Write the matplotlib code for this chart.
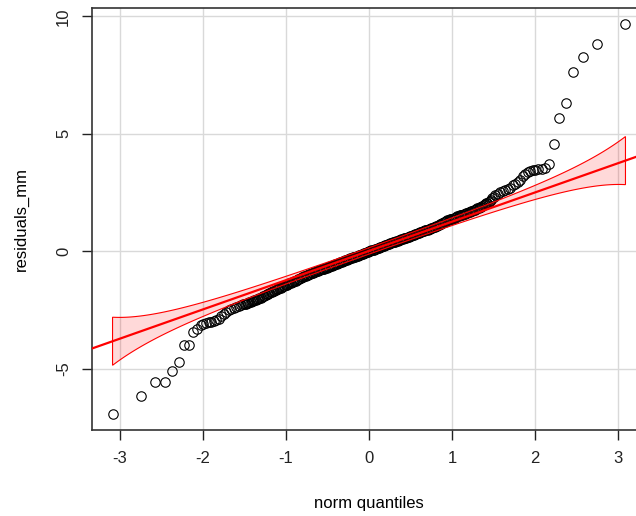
import numpy as np
import matplotlib.pyplot as plt
from statistics import NormalDist

plt.rcParams['font.family'] = ['Liberation Sans', 'DejaVu Sans']
plt.rcParams['axes.unicode_minus'] = False

# theoretical normal quantiles and sorted residuals
# lower tail
tail_lo_q = [-3.09, -2.75, -2.58, -2.46, -2.37, -2.29, -2.23, -2.17, -2.12, -2.07,
             -2.03, -2.00, -1.96, -1.93, -1.90, -1.87, -1.84, -1.81, -1.78, -1.75,
             -1.72, -1.69, -1.66, -1.63, -1.60, -1.57, -1.54, -1.52]
tail_lo_r = [-6.95, -6.16, -5.59, -5.59, -5.11, -4.70, -4.00, -4.00, -3.43, -3.30,
             -3.15, -3.10, -3.07, -3.03, -3.00, -2.96, -2.92, -2.88, -2.78, -2.68,
             -2.58, -2.50, -2.45, -2.41, -2.37, -2.34, -2.30, -2.27]
# dense central body
body_q = [
    -1.500, -1.485, -1.470, -1.455, -1.440, -1.425, -1.410, -1.395, -1.380, -1.365,
    -1.350, -1.335, -1.320, -1.305, -1.290, -1.275, -1.260, -1.245, -1.230, -1.215,
    -1.200, -1.185, -1.170, -1.155, -1.140, -1.125, -1.110, -1.095, -1.080, -1.065,
    -1.050, -1.035, -1.020, -1.005, -0.990, -0.975, -0.960, -0.945, -0.930, -0.915,
    -0.900, -0.885, -0.870, -0.855, -0.840, -0.825, -0.810, -0.795, -0.780, -0.765,
    -0.750, -0.735, -0.720, -0.705, -0.690, -0.675, -0.660, -0.645, -0.630, -0.615,
    -0.600, -0.585, -0.570, -0.555, -0.540, -0.525, -0.510, -0.495, -0.480, -0.465,
    -0.450, -0.435, -0.420, -0.405, -0.390, -0.375, -0.360, -0.345, -0.330, -0.315,
    -0.300, -0.285, -0.270, -0.255, -0.240, -0.225, -0.210, -0.195, -0.180, -0.165,
    -0.150, -0.135, -0.120, -0.105, -0.090, -0.075, -0.060, -0.045, -0.030, -0.015,
    0.000, 0.015, 0.030, 0.045, 0.060, 0.075, 0.090, 0.105, 0.120, 0.135,
    0.150, 0.165, 0.180, 0.195, 0.210, 0.225, 0.240, 0.255, 0.270, 0.285,
    0.300, 0.315, 0.330, 0.345, 0.360, 0.375, 0.390, 0.405, 0.420, 0.435,
    0.450, 0.465, 0.480, 0.495, 0.510, 0.525, 0.540, 0.555, 0.570, 0.585,
    0.600, 0.615, 0.630, 0.645, 0.660, 0.675, 0.690, 0.705, 0.720, 0.735,
    0.750, 0.765, 0.780, 0.795, 0.810, 0.825, 0.840, 0.855, 0.870, 0.885,
    0.900, 0.915, 0.930, 0.945, 0.960, 0.975, 0.990, 1.005, 1.020, 1.035,
    1.050, 1.065, 1.080, 1.095, 1.110, 1.125, 1.140, 1.155, 1.170, 1.185,
    1.200, 1.215, 1.230, 1.245, 1.260, 1.275, 1.290, 1.305, 1.320, 1.335,
    1.350, 1.365, 1.380, 1.395, 1.410, 1.425, 1.440, 1.455, 1.470, 1.485,
    1.500,
]
body_r = [
    -2.25, -2.23, -2.22, -2.20, -2.18, -2.16, -2.14, -2.12, -2.10, -2.08,
    -2.05, -2.03, -2.00, -1.98, -1.95, -1.92, -1.89, -1.87, -1.84, -1.81,
    -1.78, -1.76, -1.73, -1.70, -1.68, -1.65, -1.62, -1.60, -1.57, -1.55,
    -1.52, -1.50, -1.47, -1.45, -1.42, -1.40, -1.37, -1.35, -1.32, -1.30,
    -1.27, -1.25, -1.22, -1.20, -1.17, -1.15, -1.12, -1.10, -1.07, -1.05,
    -1.03, -1.01, -0.99, -0.96, -0.94, -0.92, -0.90, -0.88, -0.86, -0.84,
    -0.82, -0.80, -0.78, -0.76, -0.74, -0.72, -0.70, -0.68, -0.66, -0.64,
    -0.62, -0.60, -0.58, -0.56, -0.54, -0.52, -0.49, -0.47, -0.45, -0.43,
    -0.41, -0.39, -0.37, -0.35, -0.33, -0.31, -0.29, -0.27, -0.25, -0.23,
    -0.21, -0.19, -0.17, -0.15, -0.13, -0.11, -0.09, -0.07, -0.05, -0.03,
    -0.01, 0.01, 0.03, 0.05, 0.07, 0.09, 0.11, 0.13, 0.15, 0.17,
    0.19, 0.21, 0.23, 0.25, 0.27, 0.29, 0.31, 0.33, 0.35, 0.37,
    0.39, 0.41, 0.43, 0.45, 0.47, 0.49, 0.51, 0.53, 0.55, 0.56,
    0.58, 0.60, 0.62, 0.64, 0.66, 0.68, 0.70, 0.72, 0.74, 0.76,
    0.78, 0.80, 0.82, 0.84, 0.86, 0.88, 0.90, 0.92, 0.94, 0.96,
    0.98, 1.00, 1.02, 1.05, 1.07, 1.09, 1.12, 1.14, 1.17, 1.20,
    1.23, 1.26, 1.29, 1.31, 1.33, 1.35, 1.37, 1.39, 1.41, 1.43,
    1.46, 1.48, 1.50, 1.52, 1.54, 1.56, 1.58, 1.60, 1.62, 1.64,
    1.66, 1.68, 1.70, 1.72, 1.74, 1.77, 1.79, 1.82, 1.84, 1.87,
    1.90, 1.93, 1.96, 2.00, 2.03, 2.07, 2.11, 2.15, 2.20, 2.25,
    2.30,
]
# upper tail
tail_hi_q = [1.52, 1.55, 1.58, 1.61, 1.64, 1.67, 1.70, 1.73, 1.76, 1.79,
             1.82, 1.85, 1.88, 1.91, 1.94, 1.97, 2.00, 2.04, 2.08, 2.12,
             2.17, 2.23, 2.29, 2.37, 2.46, 2.58, 2.75, 3.09]
tail_hi_r = [2.38, 2.42, 2.50, 2.57, 2.61, 2.64, 2.67, 2.80, 2.88, 2.95,
             3.05, 3.18, 3.30, 3.38, 3.42, 3.44, 3.46, 3.49, 3.52, 3.55,
             3.73, 4.55, 5.65, 6.30, 7.63, 8.28, 8.81, 9.69]

n_obs = 500          # sample size behind the envelope
line_slope = 1.245   # robust reference line (through quartiles)
line_intercept = 0.01

q = np.array(tail_lo_q + body_q + tail_hi_q)
r = np.array(tail_lo_r + body_r + tail_hi_r)

fig = plt.figure(figsize=(6.36, 5.16), dpi=100)
ax = fig.add_axes([0.1447, 0.1667, 0.871, 0.8178])

# R-style 4% axis expansion
def expand(lo, hi):
    d = (hi - lo) * 0.04
    return lo - d, hi + d

xlim = expand(q.min(), q.max())
ylim = expand(r.min(), r.max())
ax.set_xlim(*xlim)
ax.set_ylim(*ylim)

ax.set_xticks([-3, -2, -1, 0, 1, 2, 3])
ax.set_yticks([-5, 0, 5, 10])
ax.grid(True, color='#d9d9d9', linewidth=1.0)
ax.set_axisbelow(True)

ax.plot(q, r, 'o', mfc='none', mec='black', ms=6.8, mew=0.8, zorder=2)

# pointwise 95% confidence envelope
nd = NormalDist()
zz = np.linspace(q.min(), q.max(), 300)
P = np.array([nd.cdf(z) for z in zz])
dens = np.array([nd.pdf(z) for z in zz])
se = (line_slope / dens) * np.sqrt(P * (1 - P) / n_obs)
fit = line_intercept + line_slope * zz
crit = nd.inv_cdf(0.975)
upper = fit + crit * se
lower = fit - crit * se
ax.fill(np.concatenate([zz, zz[::-1]]), np.concatenate([upper, lower[::-1]]),
        facecolor=(1, 0, 0, 0.15), edgecolor='red', linewidth=0.8, zorder=3)

xl = np.array(xlim)
ax.plot(xl, line_intercept + line_slope * xl, color='red', linewidth=1.6, zorder=4)

for s in ax.spines.values():
    s.set_color('#333333')
    s.set_linewidth(1.2)

ax.tick_params(direction='out', length=7, width=1, colors='#222222', labelsize=12, pad=8)
for lab in ax.get_yticklabels():
    lab.set_rotation(90)
    lab.set_va('center')

ax.set_xlabel('norm quantiles', fontsize=12, labelpad=22)
ax.set_ylabel('residuals_mm', fontsize=12, labelpad=20)

fig.savefig('out.png', dpi=100)
